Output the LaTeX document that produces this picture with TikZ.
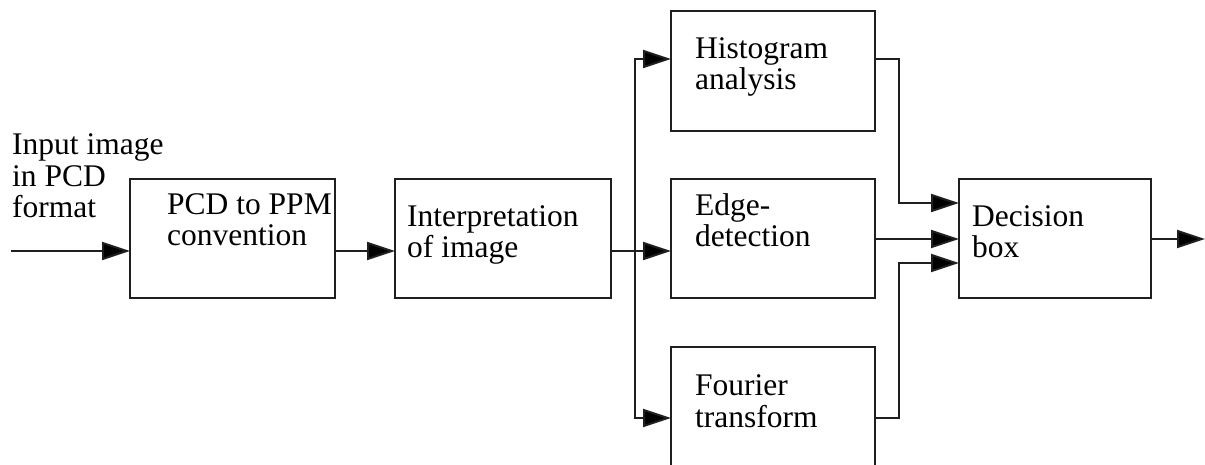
\documentclass[tikz,border=0pt]{standalone}
\usepackage{fontspec}
\setmainfont{Liberation Serif}
\usetikzlibrary{arrows.meta}
\begin{document}
\begin{tikzpicture}[x=1pt,y=-1pt,
  blk/.style={draw=black!88,line width=2pt,anchor=north west,inner sep=0pt,outer sep=0pt},
  lbl/.style={anchor=base west,inner sep=0pt,align=left,font=\fontsize{31.5}{31.5}\selectfont},
  wire/.style={draw=black!88,line width=2pt},
  arr/.style={wire,-{Triangle[length=28pt,width=18pt,fill=black]}}]
\path[use as bounding box,clip] (0,0) rectangle (1205,465);
% boxes
\node[blk,minimum width=205pt,minimum height=119pt] (pcd) at (130,179) {};
\node[blk,minimum width=216pt,minimum height=119pt] (interp) at (395,179) {};
\node[blk,minimum width=204pt,minimum height=120pt] (hist) at (671,11) {};
\node[blk,minimum width=204pt,minimum height=119pt] (edge) at (671,179) {};
\node[blk,minimum width=204pt,minimum height=160pt] (four) at (671,347) {};
\node[blk,minimum width=192pt,minimum height=119pt] (dec) at (959,179) {};
% texts (anchored at the baseline of the last line)
\node[lbl] (tin) at (12,218) {Input image\\in PCD\\format};
\node[lbl] (tpcd) at (167,246) {PCD to PPM\\convention};
\node[lbl] (tint) at (407,258) {Interpretation\\of image};
\node[lbl] (thist) at (695,90) {Histogram\\analysis};
\node[lbl] (tedge) at (695,247) {Edge-\\detection};
\node[lbl] (tfour) at (695,427) {Fourier\\transform};
\node[lbl] (tdec) at (972,258) {Decision\\box};
% coordinates
\coordinate (in) at (11,251);
\coordinate (bus) at (635,251);
\coordinate (hy) at (635,59);
\coordinate (fy) at (635,418);
\coordinate (h1) at (899,59);
\coordinate (h2) at (899,203);
\coordinate (f1) at (899,418);
\coordinate (f2) at (899,263);
\coordinate (out) at (1205,239);
% connectors
\draw[arr] (in) -- (in -| pcd.west);
\draw[arr] (pcd.east |- in) -- (interp.west |- in);
\draw[wire] (interp.east |- bus) -- (bus);
\draw[arr] (bus) -- (bus -| edge.west);
\draw[arr] (bus) -- (hy) -- (hy -| hist.west);
\draw[arr] (bus) -- (fy) -- (fy -| four.west);
\draw[arr] (h1 -| hist.east) -- (h1) -- (h2) -- (h2 -| dec.west);
\draw[arr] (edge.east |- out) -- (out -| dec.west);
\draw[arr] (f1 -| four.east) -- (f1) -- (f2) -- (f2 -| dec.west);
\draw[arr] (dec.east |- out) -- (out);
\end{tikzpicture}
\end{document}
